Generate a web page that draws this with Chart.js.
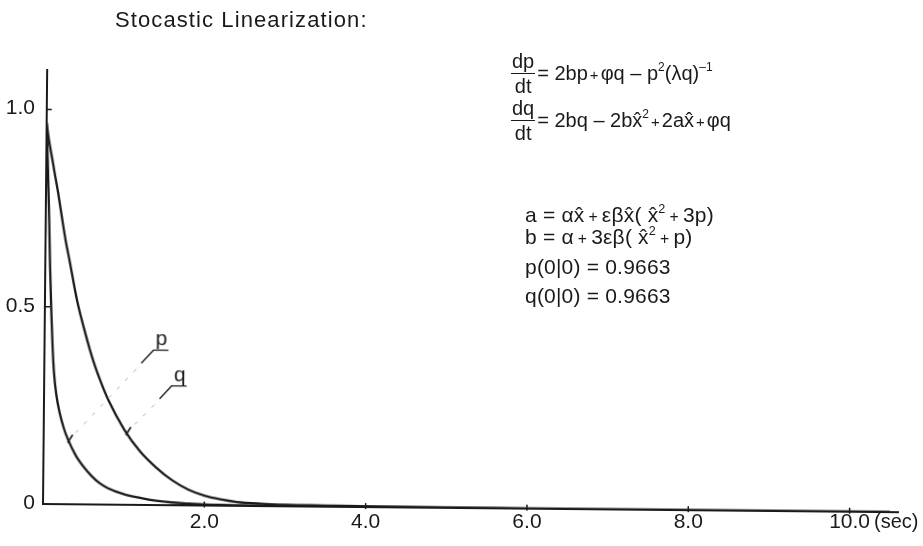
<!DOCTYPE html>
<html>
<head>
<meta charset="utf-8">
<script src="https://cdn.jsdelivr.net/npm/chart.js@4.4.1/dist/chart.umd.min.js"></script>
<style>
  html, body { margin: 0; padding: 0; background: #fff; }
  #wrap { position: relative; width: 923px; height: 546px; overflow: hidden; background: #fff; }
  /* les axes du tirage papier sont légèrement de travers, pas les chiffres */
  #plot { position: absolute; left: 0; top: 0; transform-origin: 43px 504px; transform: rotate(0.55deg); }
  #labels { position: absolute; left: 0; top: 0; pointer-events: none; }
  .txt {
    position: absolute;
    font-family: 'Liberation Sans', Arial, sans-serif;
    color: #1a1a1a;
    white-space: nowrap;
  }
  #title { left: 115px; top: 7px; font-size: 22px; letter-spacing: 1.1px; }
  .eq { font-size: 20px; line-height: 24px; }
  .eq.small { font-size: 21px; letter-spacing: 0.2px; }
  .frow { display: flex; align-items: center; }
  .frac {
    display: inline-flex;
    flex-direction: column;
    text-align: center;
    line-height: 1.0;
    margin-right: 2px;
  }
  .frac > span:first-child { border-bottom: 1.7px solid #1a1a1a; padding: 0 1px 2px; }
  .frac > span:last-child { padding-top: 2px; }
  sup { font-size: 0.6em; vertical-align: 0.75em; line-height: 0; }
  .op { font-size: 0.75em; padding: 0 2px; }
  .small .op { padding: 0 4px; }
</style>
</head>
<body>
<div id="wrap">
  <canvas id="plot" width="923" height="546"></canvas>
  <canvas id="labels" width="923" height="546"></canvas>
  <div id="title" class="txt">Stocastic Linearization:</div>
  <div class="txt eq frow" style="left:511px; top:51px;">
    <span class="frac"><span>dp</span><span>dt</span></span><span>= 2bp<span class="op">+</span>φq – p<sup>2</sup>(λq)<sup>–1</sup></span>
  </div>
  <div class="txt eq frow" style="left:511px; top:98px;">
    <span class="frac"><span>dq</span><span>dt</span></span><span>= 2bq – 2bx̂<sup>2</sup><span class="op">+</span>2ax̂<span class="op">+</span>φq</span>
  </div>
  <div class="txt eq small" style="left:525px; top:203px;">a = αx̂<span class="op">+</span>εβx̂( x̂<sup>2</sup><span class="op">+</span>3p)</div>
  <div class="txt eq small" style="left:525px; top:225px;">b = α<span class="op">+</span>3εβ( x̂<sup>2</sup><span class="op">+</span>p)</div>
  <div class="txt eq small" id="p0" style="left:525px; top:255px;"></div>
  <div class="txt eq small" id="q0" style="left:525px; top:284px;"></div>
</div>

<script>
// --- Données ---
const P0 = 0.9663;   // p(0|0)
const Q0 = 0.9663;   // q(0|0)

const times = [0, 0.02, 0.04, 0.06, 0.08, 0.1, 0.12, 0.15, 0.2, 0.25, 0.3, 0.4, 0.5, 0.6, 0.7, 0.8,
               1.0, 1.2, 1.4, 1.6, 1.8, 2.0, 2.2, 2.4, 2.7, 3.0, 3.5, 4.0, 5.0, 6.0, 7.0, 8.0, 9.0, 10.0, 10.5];

const pValues = [P0, 0.86, 0.74, 0.60, 0.49, 0.40, 0.335, 0.28, 0.228, 0.192, 0.165, 0.124, 0.095, 0.072, 0.054, 0.042,
                 0.027, 0.018, 0.011, 0.007, 0.005, 0.003, 0.002, 0.0015, 0.001, 0.001, 0.0008, 0.0006, 0.0004, 0.0002, 0, 0, 0, 0, 0];

const qValues = [Q0, 0.937, 0.912, 0.89, 0.868, 0.845, 0.823, 0.79, 0.728, 0.668, 0.618, 0.515, 0.437, 0.368, 0.312, 0.264,
                 0.19, 0.135, 0.095, 0.063, 0.040, 0.025, 0.016, 0.010, 0.006, 0.004, 0.003, 0.002, 0.001, 0.0005, 0, 0, 0, 0, 0];

const xTickValues = [2, 4, 6, 8, 10];
const xTickLabels = ['2.0', '4.0', '6.0', '8.0', '10.0'];
const xUnit = '(sec)';
const yTickValues = [0, 0.5, 1.0];
const yTickLabels = ['0', '0.5', '1.0'];

// repères des étiquettes p / q (en unités du graphe)
const pLabel = { t: 1.45, v: 0.405, mark: 0.31 };
const qLabel = { t: 1.68, v: 0.315, mark: 1.03 };

document.getElementById('p0').textContent = 'p(0|0) = ' + P0.toFixed(4);
document.getElementById('q0').textContent = 'q(0|0) = ' + Q0.toFixed(4);

const INK = '#1a1a1a';
const FONT = "'Liberation Sans', Arial, sans-serif";

function interp(ts, vs, t) {
    for (let i = 1; i < ts.length; i++) {
        if (t <= ts[i]) {
            const k = (t - ts[i - 1]) / (ts[i] - ts[i - 1]);
            return vs[i - 1] + k * (vs[i] - vs[i - 1]);
        }
    }
    return vs[vs.length - 1];
}

// --- Chiffres des axes (calque non incliné) ---
function drawTickLabels(chart) {
    const { chartArea, scales: { x, y } } = chart;
    const lc = document.getElementById('labels').getContext('2d');
    lc.clearRect(0, 0, 923, 546);
    lc.fillStyle = INK;
    lc.font = '21px ' + FONT;

    lc.textAlign = 'right';
    lc.textBaseline = 'middle';
    yTickValues.forEach((v, i) => {
        lc.fillText(yTickLabels[i], chartArea.left - 8, y.getPixelForValue(v) - 1);
    });

    lc.textAlign = 'center';
    lc.textBaseline = 'top';
    const ly = chartArea.bottom + 8;
    xTickValues.forEach((v, i) => {
        lc.fillText(xTickLabels[i], x.getPixelForValue(v), ly);
    });

    const last = xTickValues.length - 1;
    const lastX = x.getPixelForValue(xTickValues[last]) + lc.measureText(xTickLabels[last]).width / 2;
    lc.textAlign = 'left';
    lc.font = '20px ' + FONT;
    lc.fillText(xUnit, lastX + 4, ly);
}

// --- Traits, repères et étiquettes p / q ---
const decorPlugin = {
    id: 'decor',
    afterDraw(chart) {
        const { ctx, chartArea, scales: { x, y } } = chart;
        ctx.save();
        ctx.strokeStyle = INK;
        ctx.fillStyle = INK;
        ctx.lineWidth = 1.5;

        // graduations vers l'intérieur
        yTickValues.forEach(v => {
            if (v === 0) return;
            const py = y.getPixelForValue(v);
            ctx.beginPath();
            ctx.moveTo(chartArea.left, py);
            ctx.lineTo(chartArea.left + 5, py);
            ctx.stroke();
        });
        xTickValues.forEach(v => {
            const px = x.getPixelForValue(v);
            ctx.beginPath();
            ctx.moveTo(px, chartArea.bottom - 4);
            ctx.lineTo(px, chartArea.bottom + 2);
            ctx.stroke();
        });

        // étiquettes des courbes
        const drawLabel = (lab, txt, ts, vs) => {
            const lx = x.getPixelForValue(lab.t);
            const ly = y.getPixelForValue(lab.v);
            ctx.font = '21px ' + FONT;
            ctx.textAlign = 'center';
            ctx.textBaseline = 'alphabetic';
            ctx.fillText(txt, lx, ly);

            // soulignement + amorce du renvoi
            const uy = ly + 5;
            const kx = lx - 8, ky = uy;
            ctx.lineWidth = 1.3;
            ctx.beginPath();
            ctx.moveTo(lx + 7, uy);
            ctx.lineTo(kx, ky);
            ctx.lineTo(kx - 12, ky + 13);
            ctx.stroke();

            // renvoi pointillé jusqu'à la courbe
            const mx = x.getPixelForValue(lab.mark);
            const my = y.getPixelForValue(interp(ts, vs, lab.mark));
            ctx.save();
            ctx.strokeStyle = '#b0b0b0';
            ctx.lineWidth = 1;
            ctx.setLineDash([4, 8]);
            ctx.beginPath();
            ctx.moveTo(kx - 17, ky + 19);
            ctx.lineTo(mx + 6, my - 7);
            ctx.stroke();
            ctx.restore();

            // petit trait sur la courbe
            ctx.lineWidth = 1.6;
            ctx.beginPath();
            ctx.moveTo(mx - 1, my + 2);
            ctx.lineTo(mx + 4, my - 6);
            ctx.stroke();
        };
        drawLabel(pLabel, 'p', times, pValues);
        drawLabel(qLabel, 'q', times, qValues);

        ctx.restore();
        drawTickLabels(chart);
    }
};

// --- Graphique ---
const ctx = document.getElementById('plot').getContext('2d');
new Chart(ctx, {
    type: 'line',
    data: {
        datasets: [
            {
                label: 'p',
                data: times.map((t, i) => ({ x: t, y: pValues[i] })),
                borderColor: INK,
                borderWidth: 2.3,
                pointRadius: 0,
                cubicInterpolationMode: 'monotone'
            },
            {
                label: 'q',
                data: times.map((t, i) => ({ x: t, y: qValues[i] })),
                borderColor: INK,
                borderWidth: 2.3,
                pointRadius: 0,
                cubicInterpolationMode: 'monotone'
            }
        ]
    },
    options: {
        responsive: false,
        animation: false,
        devicePixelRatio: 1,
        layout: { padding: { top: 70, right: 25, left: 0, bottom: 0 } },
        plugins: {
            legend: { display: false },
            tooltip: { enabled: false }
        },
        scales: {
            x: {
                type: 'linear',
                min: 0,
                max: 10.6,
                grid: { display: false, drawTicks: false },
                border: { color: INK, width: 2 },
                afterBuildTicks: s => { s.ticks = xTickValues.map(v => ({ value: v })); },
                afterFit: s => { s.height = 42; },
                ticks: { display: false }
            },
            y: {
                type: 'linear',
                min: 0,
                max: 1.1,
                grid: { display: false, drawTicks: false },
                border: { color: INK, width: 2 },
                afterBuildTicks: s => { s.ticks = yTickValues.map(v => ({ value: v })); },
                afterFit: s => { s.width = 43; },
                ticks: { display: false }
            }
        }
    },
    plugins: [decorPlugin]
});
</script>
</body>
</html>
